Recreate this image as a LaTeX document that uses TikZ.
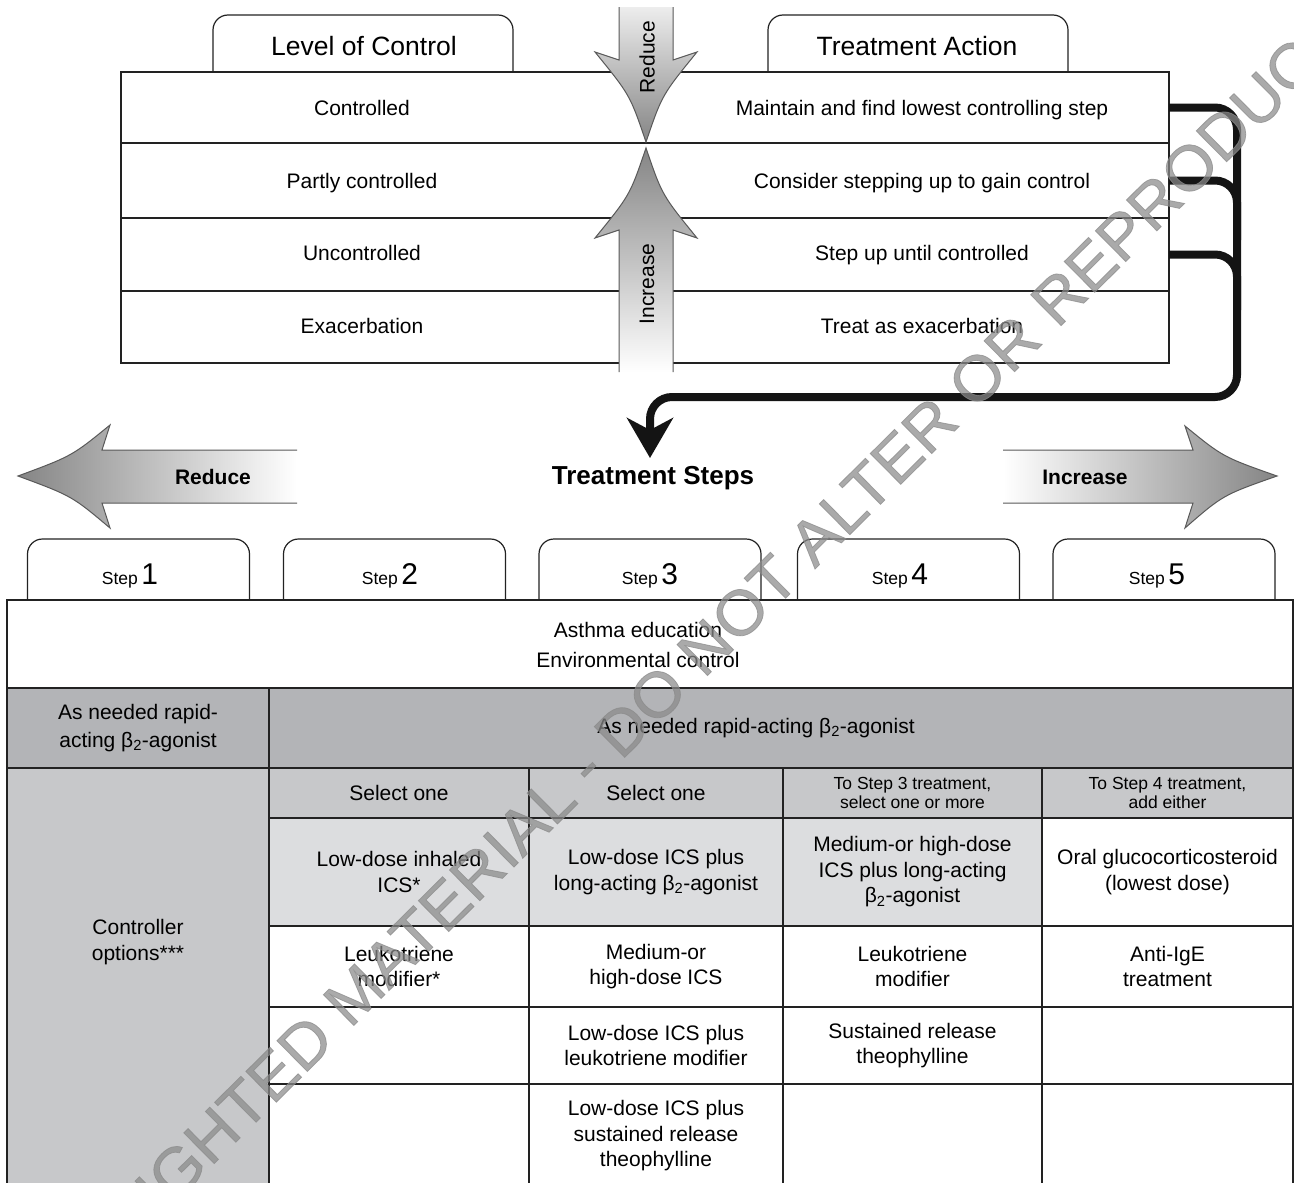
\documentclass[tikz,border=0pt]{standalone}
\usepackage{fontspec}
\setmainfont{Liberation Sans}
\newfontfamily\wmfont[FakeBold=1.2,FakeStretch=1.04]{Liberation Sans}
\usetikzlibrary{arrows.meta}
\definecolor{rowdark}{HTML}{B3B4B7}
\definecolor{rowmid}{HTML}{C7C8CA}
\definecolor{rowlight}{HTML}{DCDDDF}
\definecolor{linec}{HTML}{222222}
\definecolor{arrowdark}{HTML}{858585}
\definecolor{arrowlight}{HTML}{EDEDED}
\definecolor{wmcol}{HTML}{8A8A8A}
\newcommand{\myfn}{\fontsize{21}{25.5}\selectfont}
\newcommand{\myfs}{\fontsize{17.5}{19.5}\selectfont}
\newcommand{\myfb}{\fontsize{26.5}{30}\selectfont}
\newcommand{\stepnum}[1]{{\fontsize{17.5}{20}\selectfont Step}\,{\fontsize{30}{30}\selectfont #1}}
\newcommand{\btwo}{β\textsubscript{2}}
\tikzset{
  every node/.style={inner sep=0pt, outer sep=0pt, font=\myfn},
  rowbox/.style={draw=linec, line width=1.2pt, minimum width=1048pt, anchor=north west},
  tabnode/.style={draw=none},
  tabline/.style={draw=linec, line width=1.2pt, rounded corners=15pt},
  cell/.style={draw=linec, line width=1.5pt, align=center, anchor=north west},
  txt/.style={align=center},
  conn/.style={line width=8pt, draw=black!92, rounded corners=22pt},
  harrow/.style={draw=black!65, line width=1pt},
  wm/.style={font=\wmfont\fontsize{63}{63}\selectfont, text=wmcol, text opacity=0.72}
}
\begin{document}
\begin{tikzpicture}[x=1pt,y=-1pt]
\fill[white] (0,0) rectangle (1294,1183);
\useasboundingbox (0,0) rectangle (1294,1183);

% ---------- top tabs ----------
\node[tabnode, minimum width=300pt, minimum height=57pt] (lvl) at (363,43.5) {};
\draw[tabline] (lvl.south west) -- (lvl.north west) -- (lvl.north east) -- (lvl.south east);
\node[anchor=base, font=\myfb] (lvlt) at (364,55.5) {Level of Control};
\node[tabnode, minimum width=300pt, minimum height=57pt] (act) at (918,43.5) {};
\draw[tabline] (act.south west) -- (act.north west) -- (act.north east) -- (act.south east);
\node[anchor=base, font=\myfb] (actt) at (917,55.5) {Treatment Action};

% ---------- top rows ----------
\node[rowbox, minimum height=71pt] (r1) at (121,72) {};
\node[rowbox, minimum height=75pt] (r2) at (121,143) {};
\node[rowbox, minimum height=73pt] (r3) at (121,218) {};
\node[rowbox, minimum height=72pt] (r4) at (121,291) {};
\node[anchor=base] (lc1) at (362,115.5) {Controlled};
\node[anchor=base] (lc2) at (362,188) {Partly controlled};
\node[anchor=base] (lc3) at (362,260.5) {Uncontrolled};
\node[anchor=base] (lc4) at (362,333.5) {Exacerbation};
\node[anchor=base] (ta1) at (922,115.5) {Maintain and find lowest controlling step};
\node[anchor=base] (ta2) at (922,188) {Consider stepping up to gain control};
\node[anchor=base] (ta3) at (922,260.5) {Step up until controlled};
\node[anchor=base] (ta4) at (922,333.5) {Treat as exacerbation};

% ---------- vertical arrows ----------
\path[harrow, top color=arrowlight, bottom color=arrowdark]
  (619,7) -- (619,60) -- (595,52) .. controls (630,95) .. (646,142)
  .. controls (662,95) .. (697,52) -- (673,60) -- (673,7);
\path[harrow, top color=arrowdark, bottom color=white]
  (619,372) -- (619,230) -- (595,238) .. controls (630,195) .. (646,148)
  .. controls (662,195) .. (697,238) -- (673,230) -- (673,372);
\node[rotate=90] (vred) at (647,57) {Reduce};
\node[rotate=90] (vinc) at (647,284) {Increase};

% ---------- connectors ----------
\coordinate (bend) at (1237,397);
\coordinate (tgt) at (650,458);
\coordinate (j2) at (1237,240);
\coordinate (j3) at (1237,310);
\draw[conn] (r2.east) -| (j2);
\draw[conn] (r3.east) -| (j3);
\draw[conn, -{Stealth[length=40pt,width=46pt,inset=12pt]}] (r1.east) -| (bend) -| (tgt);

% ---------- horizontal arrows ----------
\path[harrow, left color=arrowdark, right color=white]
  (297,450) -- (102,450) -- (110,425) .. controls (72,456) .. (18,476)
  .. controls (72,496) .. (110,528) -- (102,503) -- (297,503);
\path[harrow, left color=white, right color=arrowdark]
  (1003,450) -- (1193,450) -- (1185,426) .. controls (1223,457) .. (1277,476)
  .. controls (1223,495) .. (1185,528) -- (1193,503) -- (1003,503);
\node[font=\bfseries\fontsize{21}{24}\selectfont] (hred) at (213,477) {Reduce};
\node[font=\bfseries\fontsize{21}{24}\selectfont] (hinc) at (1085,477) {Increase};
\node[font=\bfseries\fontsize{26}{30}\selectfont] (tsteps) at (653,478) {Treatment Steps};

% ---------- step tabs ----------
\foreach \nm/\cx/\tx/\lab in {s1/138.5/130/1, s2/394.5/390/2, s3/650/650/3, s4/908.5/900/4, s5/1164/1157/5}{
  \node[tabnode, minimum width=222pt, minimum height=61pt] (\nm) at (\cx,569.5) {};
  \draw[tabline] (\nm.south west) -- (\nm.north west) -- (\nm.north east) -- (\nm.south east);
  \node[anchor=base] (\nm t) at (\tx,584) {\stepnum{\lab}};
}

% ---------- treatment table ----------
\node[cell, minimum width=1286pt, minimum height=88pt] (educ) at (7,600) {};
\node[txt, font=\fontsize{21}{30}\selectfont] (educt) at (638,645) {Asthma education\\Environmental control};

\node[cell, fill=rowdark, minimum width=262pt, minimum height=80pt, font=\fontsize{21}{28}\selectfont] (rap1) at (7,688) {As needed rapid-\\acting \btwo-agonist};
\node[cell, fill=rowdark, minimum width=1024pt, minimum height=80pt] (rap2) at (269,688) {};
\node[txt] (rap2t) at (756,728) {As needed rapid-acting \btwo-agonist};

\node[cell, fill=rowmid, minimum width=262pt, minimum height=430pt] (ctrl) at (7,768) {};
\node[txt] (ctrlt) at (138,942) {Controller\\options***};

\node[cell, fill=rowmid, minimum width=260pt, minimum height=50pt] (h1) at (269,768) {Select one};
\node[cell, fill=rowmid, minimum width=254pt, minimum height=50pt] (h2) at (529,768) {Select one};
\node[cell, fill=rowmid, minimum width=259pt, minimum height=50pt, font=\myfs] (h3) at (783,768) {To Step 3 treatment,\\select one or more};
\node[cell, fill=rowmid, minimum width=251pt, minimum height=50pt, font=\myfs] (h4) at (1042,768) {To Step 4 treatment,\\add either};

\node[cell, fill=rowlight, minimum width=260pt, minimum height=108pt] (a1) at (269,818) {Low-dose inhaled\\ICS*};
\node[cell, fill=rowlight, minimum width=254pt, minimum height=108pt] (a2) at (529,818) {Low-dose ICS plus\\long-acting \btwo-agonist};
\node[cell, fill=rowlight, minimum width=259pt, minimum height=108pt] (a3) at (783,818) {Medium-or high-dose\\ICS plus long-acting\\\btwo-agonist};
\node[cell, fill=white, minimum width=251pt, minimum height=108pt] (a4) at (1042,818) {Oral glucocorticosteroid\\(lowest dose)};

\node[cell, minimum width=260pt, minimum height=81pt] (b1) at (269,926) {Leukotriene\\modifier*};
\node[cell, minimum width=254pt, minimum height=81pt] (b2) at (529,926) {Medium-or\\high-dose ICS};
\node[cell, minimum width=259pt, minimum height=81pt] (b3) at (783,926) {Leukotriene\\modifier};
\node[cell, minimum width=251pt, minimum height=81pt] (b4) at (1042,926) {Anti-IgE\\treatment};

\node[cell, minimum width=260pt, minimum height=77pt] (c1) at (269,1007) {};
\node[cell, minimum width=254pt, minimum height=77pt] (c2) at (529,1007) {Low-dose ICS plus\\leukotriene modifier};
\node[cell, minimum width=259pt, minimum height=77pt] (c3) at (783,1007) {Sustained release\\theophylline};
\node[cell, minimum width=251pt, minimum height=77pt] (c4) at (1042,1007) {};

\node[cell, minimum width=260pt, minimum height=112pt] (d1) at (269,1084) {};
\node[cell, minimum width=254pt, minimum height=104pt] (d2) at (529,1084) {Low-dose ICS plus\\sustained release\\theophylline};
\node[cell, minimum width=259pt, minimum height=112pt] (d3) at (783,1084) {};
\node[cell, minimum width=251pt, minimum height=112pt] (d4) at (1042,1084) {};

% ---------- watermark ----------
\node[wm, rotate=44.7] (wmark) at (660,692) {COPYRIGHTED MATERIAL - DO NOT ALTER OR REPRODUCE};
\end{tikzpicture}
\end{document}
